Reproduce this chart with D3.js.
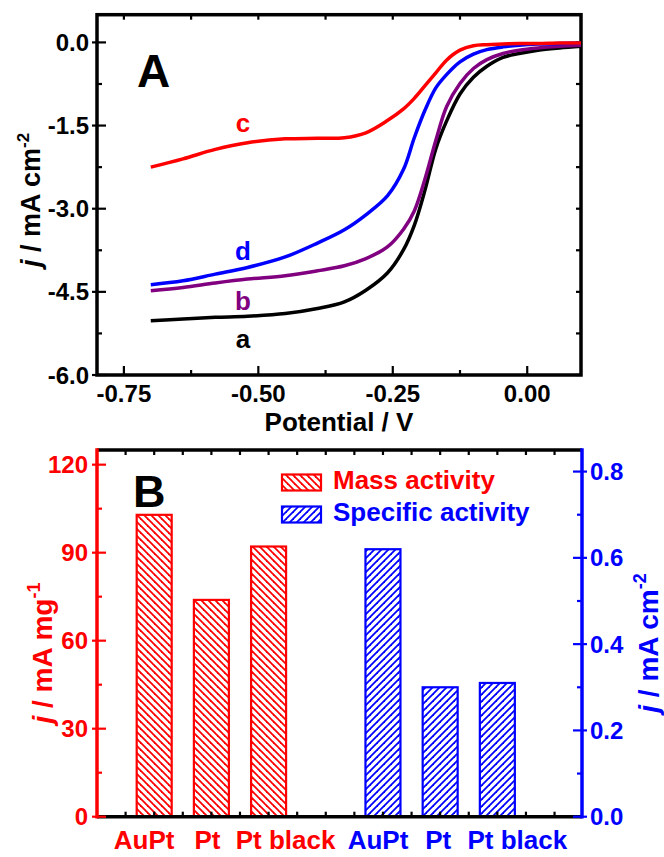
<!DOCTYPE html>
<html>
<head>
<meta charset="utf-8">
<script src="https://cdn.jsdelivr.net/npm/d3@7"></script>
<style>
  body { margin: 0; background: #fff; }
  text { font-family: Arial, "Liberation Sans", sans-serif; font-weight: bold; }
</style>
</head>
<body>
<div class="chart"></div>
<script>
// ---- data ----
var potentials = [-0.70, -0.64, -0.58, -0.52, -0.45, -0.39, -0.34, -0.30, -0.26, -0.23, -0.21,
                  -0.19, -0.17, -0.15, -0.125, -0.10, -0.075, -0.045, -0.015, 0.02, 0.06, 0.10];
var curveA = [-5.02, -4.99, -4.96, -4.94, -4.89, -4.80, -4.68, -4.47, -4.16, -3.74, -3.30,
              -2.66, -1.92, -1.42, -0.93, -0.63, -0.43, -0.27, -0.20, -0.14, -0.10, -0.07];
var curveB = [-4.48, -4.42, -4.34, -4.27, -4.21, -4.12, -4.03, -3.90, -3.69, -3.37, -3.04,
              -2.46, -1.77, -1.16, -0.74, -0.47, -0.31, -0.20, -0.14, -0.10, -0.07, -0.05];
var curveC = [-2.25, -2.10, -1.93, -1.81, -1.74, -1.73, -1.72, -1.63, -1.41, -1.20, -1.01,
              -0.78, -0.55, -0.32, -0.14, -0.06, -0.04, -0.03, -0.02, -0.02, -0.01, -0.01];
var curveD = [-4.37, -4.30, -4.18, -4.06, -3.87, -3.62, -3.38, -3.11, -2.77, -2.29, -1.72,
              -1.22, -0.82, -0.58, -0.35, -0.21, -0.13, -0.08, -0.05, -0.03, -0.02, -0.01];
var curveNames = ["a", "b", "c", "d"];

var xTicksA = [-0.75, -0.50, -0.25, 0.00];
var yTicksA = [0, -1.5, -3.0, -4.5, -6.0];

var categories = ["AuPt", "Pt", "Pt black"];
var massActivity = [102.9, 73.9, 92.1];
var specificActivity = [0.62, 0.30, 0.31];
var yTicksLeftB = [0, 30, 60, 90, 120];
var yTicksRightB = [0, 0.2, 0.4, 0.6, 0.8];

var RED = "#ff0000", BLUE = "#0000ff", PURPLE = "#800080";

var svg = d3.select(".chart").append("svg")
    .attr("width", 664)
    .attr("height", 857);

// hatch patterns
var defs = svg.append("defs");
function hatch(id, color, back) {
    var s = 7;
    var p = defs.append("pattern").attr("id", id)
        .attr("patternUnits", "userSpaceOnUse")
        .attr("width", s).attr("height", s);
    p.append("rect").attr("width", s).attr("height", s).attr("fill", "#fff");
    var segs = back
        ? [[0, 0, s, s], [-1, s - 1, 1, s + 1], [s - 1, -1, s + 1, 1]]
        : [[0, s, s, 0], [-1, 1, 1, -1], [s - 1, s + 1, s + 1, s - 1]];
    segs.forEach(function(q) {
        p.append("line").attr("x1", q[0]).attr("y1", q[1]).attr("x2", q[2]).attr("y2", q[3])
            .attr("stroke", color).attr("stroke-width", 1.8);
    });
}
hatch("hatchRed", RED, true);
hatch("hatchBlue", BLUE, false);

// small helper for tick marks
function tickLine(g, x1, y1, x2, y2, color) {
    g.append("line").attr("x1", x1).attr("y1", y1).attr("x2", x2).attr("y2", y2)
        .attr("stroke", color).attr("stroke-width", 2.2);
}

// ================= Panel A =================
var xA = d3.scaleLinear().domain([-0.8, 0.1]).range([97, 581]);
var yA = d3.scaleLinear().domain([-6, 0.5]).range([375, 14.7]);
var gA = svg.append("g");

// ticks (major + minor), all drawn through the scales
d3.range(-0.75, 0.1, 0.125).forEach(function(v) {
    var major = Math.abs(Math.round(v / 0.25) * 0.25 - v) < 1e-6;
    tickLine(gA, xA(v), 375, xA(v), 375 - (major ? 9 : 5), "#000");
    tickLine(gA, xA(v), 14.7, xA(v), 14.7 + 5, "#000");
});
d3.range(0, -6.01, -0.75).forEach(function(v) {
    var major = Math.abs(Math.round(v / 1.5) * 1.5 - v) < 1e-6;
    if (major) tickLine(gA, 92, yA(v), 106, yA(v), "#000");
    else tickLine(gA, 97, yA(v), 102, yA(v), "#000");
    tickLine(gA, 581, yA(v), 576, yA(v), "#000");
});

gA.append("rect")
    .attr("x", xA(-0.8)).attr("y", yA(0.5))
    .attr("width", xA(0.1) - xA(-0.8)).attr("height", yA(-6) - yA(0.5))
    .attr("fill", "none").attr("stroke", "#000").attr("stroke-width", 3.5);

gA.selectAll(".xlab").data(xTicksA).enter().append("text")
    .attr("x", d => xA(d)).attr("y", 402)
    .attr("text-anchor", "middle").attr("font-size", 24)
    .text(d => d3.format(".2f")(d).replace("−", "-"));

gA.selectAll(".ylab").data(yTicksA).enter().append("text")
    .attr("x", 89).attr("y", d => yA(d) + 8.5)
    .attr("text-anchor", "end").attr("font-size", 24)
    .text(d => d3.format(".1f")(d).replace("−", "-"));

gA.append("text").attr("x", 339).attr("y", 431)
    .attr("text-anchor", "middle").attr("font-size", 26).text("Potential / V");

var ytA = gA.append("text").attr("transform", "translate(40,200) rotate(-90)")
    .attr("text-anchor", "middle").attr("font-size", 27);
ytA.append("tspan").attr("font-style", "italic").text("j");
ytA.append("tspan").text(" / mA cm");
ytA.append("tspan").attr("dy", -11).attr("font-size", 17).text("-2");

// curves
var series = [curveA, curveB, curveC, curveD];
var colors = ["#000", PURPLE, RED, BLUE];
var line = d3.line()
    .x((d, i) => xA(potentials[i]))
    .y(d => yA(d))
    .curve(d3.curveCatmullRom.alpha(0.5));
[0, 1, 3, 2].forEach(function(k) {
    gA.append("path").datum(series[k])
        .attr("d", line)
        .attr("fill", "none")
        .attr("stroke", colors[k])
        .attr("stroke-width", 3.5)
        .attr("stroke-linejoin", "round");
});

var labelY = { a: 348, b: 310, c: 132, d: 260 };
curveNames.forEach(function(n, k) {
    gA.append("text").attr("x", 243).attr("y", labelY[n])
        .attr("text-anchor", "middle").attr("font-size", 26)
        .attr("fill", colors[k]).text(n);
});

gA.append("text").attr("x", 137).attr("y", 87).attr("font-size", 46).text("A");

// ================= Panel B =================
var xB = d3.scaleLinear().domain([0, 8.48]).range([97, 582]);
var yL = d3.scaleLinear().domain([0, 125]).range([816.7, 450]);
var yR = d3.scaleLinear().domain([0, 0.85]).range([816.7, 450]);
var gB = svg.append("g");

// bars
var barW = 35;
gB.selectAll(".mass").data(massActivity).enter().append("rect")
    .attr("x", (d, i) => xB(i + 1) - barW / 2)
    .attr("y", d => yL(d))
    .attr("width", barW)
    .attr("height", d => yL(0) - yL(d))
    .attr("fill", "url(#hatchRed)").attr("stroke", RED).attr("stroke-width", 2.2);
gB.selectAll(".spec").data(specificActivity).enter().append("rect")
    .attr("x", (d, i) => xB(i + 5) - barW / 2)
    .attr("y", d => yR(d))
    .attr("width", barW)
    .attr("height", d => yR(0) - yR(d))
    .attr("fill", "url(#hatchBlue)").attr("stroke", BLUE).attr("stroke-width", 2.2);

// frame top / bottom with half-slot ticks
d3.range(0.5, 8.3, 0.5).forEach(function(v) {
    tickLine(gB, xB(v), 816.7, xB(v), 811.7, "#000");
    tickLine(gB, xB(v), 450, xB(v), 455, "#000");
});
gB.append("line").attr("x1", 97).attr("x2", 582).attr("y1", 450).attr("y2", 450)
    .attr("stroke", "#000").attr("stroke-width", 3.5);
gB.append("line").attr("x1", 97).attr("x2", 582).attr("y1", 816.7).attr("y2", 816.7)
    .attr("stroke", "#000").attr("stroke-width", 3.5);

// left axis (red)
d3.range(0, 121, 15).forEach(function(v) {
    if (v % 30 === 0) tickLine(gB, 92, yL(v), 106, yL(v), RED);
    else tickLine(gB, 97, yL(v), 102, yL(v), RED);
});
gB.append("line").attr("x1", 97).attr("x2", 97).attr("y1", 448.3).attr("y2", 818.4)
    .attr("stroke", RED).attr("stroke-width", 3.5);
gB.selectAll(".llab").data(yTicksLeftB).enter().append("text")
    .attr("x", 88).attr("y", d => yL(d) + 8.5)
    .attr("text-anchor", "end").attr("font-size", 24).attr("fill", RED)
    .text(d => d);

// right axis (blue)
d3.range(0, 0.81, 0.1).forEach(function(v, i) {
    if (i % 2 === 0) tickLine(gB, 587, yR(v), 573, yR(v), BLUE);
    else tickLine(gB, 582, yR(v), 577, yR(v), BLUE);
});
gB.append("line").attr("x1", 582).attr("x2", 582).attr("y1", 448.3).attr("y2", 818.4)
    .attr("stroke", BLUE).attr("stroke-width", 3.5);
gB.selectAll(".rlab").data(yTicksRightB).enter().append("text")
    .attr("x", 590).attr("y", d => yR(d) + 8.5)
    .attr("font-size", 24).attr("fill", BLUE)
    .text(d => d3.format(".1f")(d));

// axis titles
var ytL = gB.append("text").attr("transform", "translate(52,653) rotate(-90)")
    .attr("text-anchor", "middle").attr("font-size", 28).attr("fill", RED);
ytL.append("tspan").attr("font-style", "italic").text("j");
ytL.append("tspan").text(" / mA mg");
ytL.append("tspan").attr("dy", -12).attr("font-size", 18).text("-1");

var ytR = gB.append("text").attr("transform", "translate(658,643) rotate(-90)")
    .attr("text-anchor", "middle").attr("font-size", 28).attr("fill", BLUE);
ytR.append("tspan").attr("font-style", "italic").text("j");
ytR.append("tspan").text(" / mA cm");
ytR.append("tspan").attr("dy", -12).attr("font-size", 18).text("-2");

// category labels under bars
var labelDx = [-10, -4, 17, -5, -2, 20];
categories.concat(categories).forEach(function(c, i) {
    var slot = i < 3 ? i + 1 : i + 2;
    gB.append("text").attr("x", xB(slot) + labelDx[i]).attr("y", 849)
        .attr("text-anchor", "middle").attr("font-size", 26)
        .attr("fill", i < 3 ? RED : BLUE).text(c);
});

// legend
gB.append("rect").attr("x", 282).attr("y", 474.5).attr("width", 39).attr("height", 16)
    .attr("fill", "url(#hatchRed)").attr("stroke", RED).attr("stroke-width", 2.2);
gB.append("rect").attr("x", 282).attr("y", 506.5).attr("width", 39).attr("height", 16)
    .attr("fill", "url(#hatchBlue)").attr("stroke", BLUE).attr("stroke-width", 2.2);
gB.append("text").attr("x", 333).attr("y", 489).attr("font-size", 26).attr("fill", RED)
    .text("Mass activity");
gB.append("text").attr("x", 333).attr("y", 521).attr("font-size", 26).attr("fill", BLUE)
    .text("Specific activity");

gB.append("text").attr("x", 133).attr("y", 507).attr("font-size", 45).text("B");
</script>
</body>
</html>
